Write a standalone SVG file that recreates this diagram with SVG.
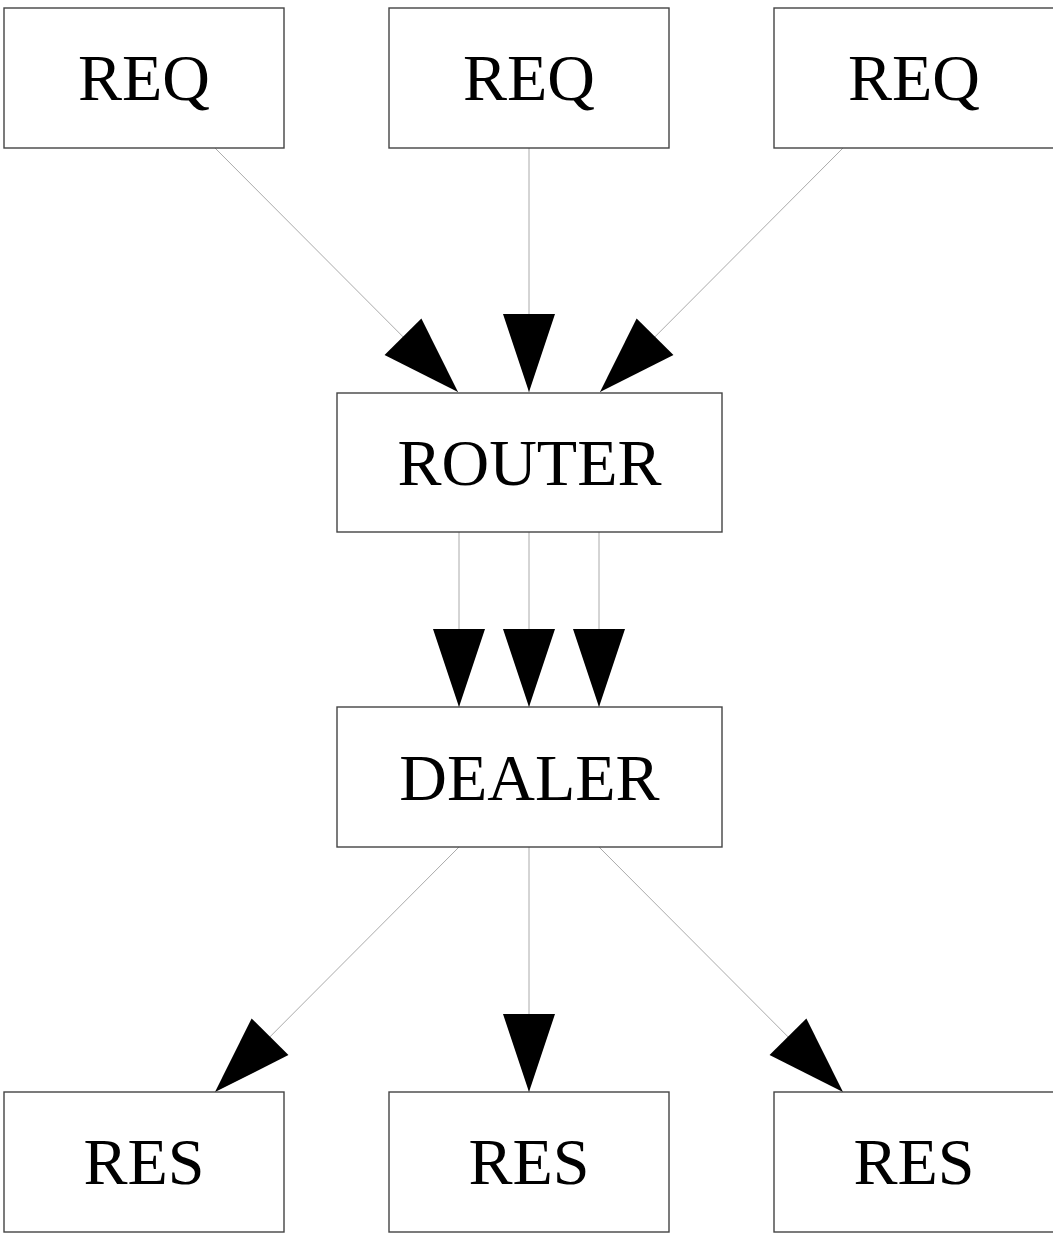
<svg xmlns="http://www.w3.org/2000/svg" width="1053" height="1233" viewBox="0 0 1053 1233">
<style>
.box{fill:#fff;stroke:#444;stroke-width:1.4}
.lbl{font-family:"Liberation Serif","Times New Roman",serif;font-size:66px;fill:#000;text-anchor:middle}
.edge{stroke:#aaa;stroke-width:1;fill:none}
</style>
<defs>
<marker id="ah" markerUnits="userSpaceOnUse" markerWidth="80" markerHeight="54" refX="78" refY="26" orient="auto" overflow="visible">
<path d="M0,0 L78,26 L0,52 Z" fill="#000"/>
</marker>
</defs>
<rect width="1053" height="1233" fill="#fff"/>
<g id="connectors">
<line class="edge" x1="215" y1="148" x2="458" y2="392" marker-end="url(#ah)"/>
<line class="edge" x1="529" y1="148" x2="529" y2="392" marker-end="url(#ah)"/>
<line class="edge" x1="843" y1="148" x2="600" y2="392" marker-end="url(#ah)"/>
<line class="edge" x1="459" y1="532" x2="459" y2="707" marker-end="url(#ah)"/>
<line class="edge" x1="529" y1="532" x2="529" y2="707" marker-end="url(#ah)"/>
<line class="edge" x1="599" y1="532" x2="599" y2="707" marker-end="url(#ah)"/>
<line class="edge" x1="459" y1="847" x2="215" y2="1092" marker-end="url(#ah)"/>
<line class="edge" x1="529" y1="847" x2="529" y2="1092" marker-end="url(#ah)"/>
<line class="edge" x1="599" y1="847" x2="843" y2="1092" marker-end="url(#ah)"/>
</g>
<g id="req1"><rect class="box" x="4" y="8" width="280" height="140"/><text class="lbl" x="144" y="100">REQ</text></g>
<g id="req2"><rect class="box" x="389" y="8" width="280" height="140"/><text class="lbl" x="529" y="100">REQ</text></g>
<g id="req3"><rect class="box" x="774" y="8" width="280" height="140"/><text class="lbl" x="914" y="100">REQ</text></g>
<g id="router"><rect class="box" x="337" y="393" width="385" height="139"/><text class="lbl" x="529.5" y="485">ROUTER</text></g>
<g id="dealer"><rect class="box" x="337" y="707" width="385" height="140"/><text class="lbl" x="529.5" y="800">DEALER</text></g>
<g id="res1"><rect class="box" x="4" y="1092" width="280" height="140"/><text class="lbl" x="144" y="1184">RES</text></g>
<g id="res2"><rect class="box" x="389" y="1092" width="280" height="140"/><text class="lbl" x="529" y="1184">RES</text></g>
<g id="res3"><rect class="box" x="774" y="1092" width="280" height="140"/><text class="lbl" x="914" y="1184">RES</text></g>
</svg>
